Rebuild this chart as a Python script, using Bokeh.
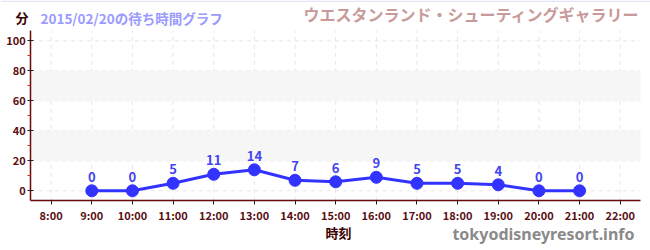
from bokeh.plotting import figure
from bokeh.models import FixedTicker, BoxAnnotation, Range1d, ColumnDataSource, AllLabels
from bokeh.core.properties import value
from bokeh.embed import file_html
from bokeh.resources import INLINE

hours = [9, 10, 11, 12, 13, 14, 15, 16, 17, 18, 19, 20, 21]
waits = [0, 0, 5, 11, 14, 7, 6, 9, 5, 5, 4, 0, 0]
x_ticks = list(range(8, 23))
x_tick_labels = {h: f"{h}:00" for h in x_ticks}
y_ticks = [0, 20, 40, 60, 80, 100]
y_minor = [10, 30, 50, 70, 90]
bands = [(20, 40), (60, 80)]
title_left = "2015/02/20の待ち時間グラフ"
title_right = "ウエスタンランド・シューティングギャラリー"
y_unit = "分"
x_label = "時刻"
watermark = "tokyodisneyresort.info"

JP = "Noto Sans CJK JP"
AXIS_COL = "#6a0a0a"
LABEL_COL = "#5a0f14"

W, H = 650, 250
X0, X1 = 7.5, 22.5      # plotted hour span
Y0, Y1 = -6.67, 106.67  # plotted minute span
AX_PX, PX_PER_H = 30.3, 40.65
ZERO_PY, PX_PER_MIN = 190.3, 1.5

p = figure(width=W, height=H, output_backend="svg", toolbar_location=None,
           x_range=Range1d(X0 - AX_PX / PX_PER_H, X0 + (W - AX_PX) / PX_PER_H),
           y_range=Range1d((ZERO_PY - H) / PX_PER_MIN, ZERO_PY / PX_PER_MIN),
           min_border=0, min_border_left=0, min_border_right=0,
           min_border_top=0, min_border_bottom=0)
p.outline_line_color = None
p.background_fill_color = "white"
p.border_fill_color = "white"
p.xgrid.visible = False
p.ygrid.visible = False

# faint rule along the top edge of the page
p.add_layout(BoxAnnotation(bottom=H - 1.5, top=H, bottom_units="screen", top_units="screen",
                           fill_color="#e4e4fa", fill_alpha=1.0, line_color=None))

for lo, hi in bands:
    p.add_layout(BoxAnnotation(left=X0, right=X1, bottom=lo, top=hi, fill_color="#f6f6f6",
                               fill_alpha=1.0, line_color=None, level="underlay"))

# dashed grid, limited to the plotting area
p.segment(x0=x_ticks, x1=x_ticks, y0=[Y0] * len(x_ticks), y1=[Y1] * len(x_ticks),
          line_color="#e6e6e6", line_dash="4 4", line_width=1, level="underlay")
p.segment(x0=[X0] * len(y_ticks), x1=[X1] * len(y_ticks), y0=y_ticks, y1=y_ticks,
          line_color="#e6e6e6", line_dash="4 4", line_width=1, level="underlay")

src = ColumnDataSource(dict(x=hours, y=waits, t=[str(v) for v in waits]))
p.line("x", "y", source=src, line_color="#3333ff", line_width=3)
p.scatter("x", "y", source=src, size=12, fill_color="#3333ff", line_color="#3333ff")
p.text("x", "y", text="t", source=src, text_align="center", text_baseline="middle",
       y_offset=-14, text_color="#4444ee", text_font=value(JP), text_font_size="13px",
       text_font_style="bold")

xa, ya = p.xaxis[0], p.yaxis[0]
xa.fixed_location = Y0
ya.fixed_location = X0
xa.bounds = (X0, X1)
ya.bounds = (Y0, Y1)
xa.ticker = FixedTicker(ticks=x_ticks)
xa.major_label_overrides = x_tick_labels
ya.ticker = FixedTicker(ticks=y_ticks, minor_ticks=y_minor)

for ax in (xa, ya):
    ax.major_label_policy = AllLabels()
    ax.axis_line_color = AXIS_COL
    ax.axis_line_width = 1.5
    ax.major_tick_line_color = "#222222"
    ax.major_label_text_color = LABEL_COL
    ax.major_label_text_font = JP
    ax.major_label_text_font_size = "11px"
    ax.major_label_text_font_style = "bold"
    ax.major_label_standoff = 2
ya.major_tick_in = 3
ya.major_tick_out = 3
ya.minor_tick_line_color = "#dd2222"
ya.minor_tick_in = 0
ya.minor_tick_out = 3
xa.major_tick_in = 0
xa.major_tick_out = 4
xa.minor_tick_line_color = None


def hx(px):
    return X0 + (px - AX_PX) / PX_PER_H


def my(py):
    return (ZERO_PY - py) / PX_PER_MIN


def label(px, py, text, size, color, align="left", font=JP):
    # px, py: canvas pixels from top-left; the frame fills the canvas
    p.text(x=[hx(px)], y=[my(py)], text=[text], text_font=value(font),
           text_font_size=size, text_font_style="bold", text_color=color,
           text_baseline="middle", text_align=align)


label(15, 17, y_unit, "13px", "#3a0000")
label(40, 17, title_left, "13.5px", "#9a9aff")
label(639, 13, title_right, "16px", "#c89a9a", align="right")
label(338, 232, x_label, "13px", "#3a0000", align="center")
label(634, 233, watermark, "16px", "#8a8a8a", align="right", font="Noto Sans")

open("out.html", "w").write(file_html(p, INLINE))
